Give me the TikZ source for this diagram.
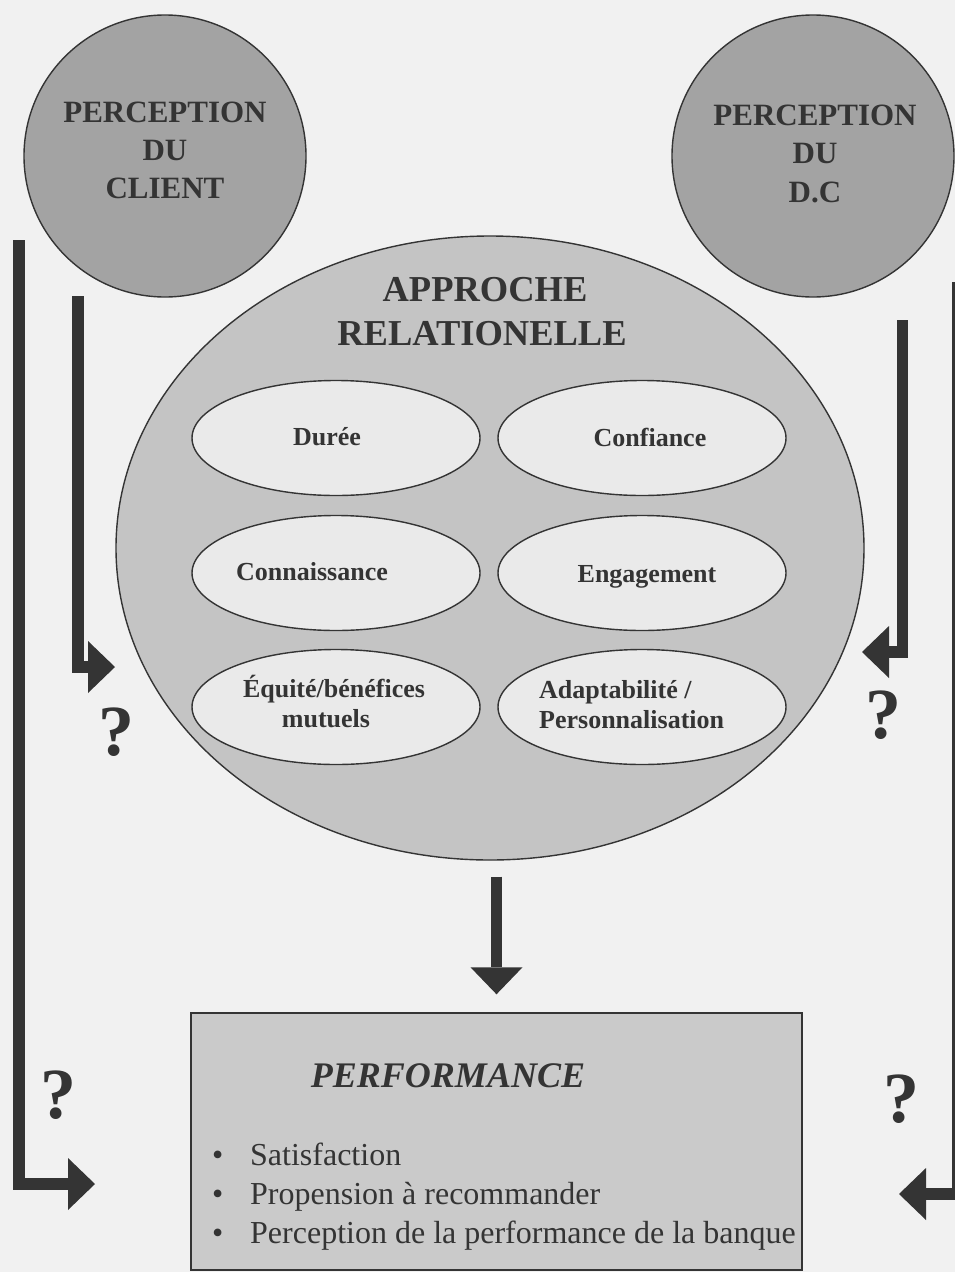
\documentclass[tikz,border=0pt]{standalone}
\usepackage{fontspec}
\setmainfont{Liberation Serif}
\usetikzlibrary{shapes.geometric,arrows.meta}
\definecolor{ink}{RGB}{52,52,52}
\definecolor{paper}{RGB}{241,241,241}
\definecolor{topfill}{RGB}{163,163,163}
\definecolor{bigfill}{RGB}{196,196,196}
\definecolor{ovalfill}{RGB}{234,234,234}
\definecolor{boxfill}{RGB}{202,202,202}
\newcommand\fsz[2]{\fontsize{#1}{#2}\selectfont}

\tikzset{
  outline/.style={draw=ink, line width=1.4pt},
  topcircle/.style={circle, outline, fill=topfill, minimum size=282pt, inner sep=0pt},
  bigoval/.style={ellipse, outline, fill=bigfill, minimum width=748pt, minimum height=624pt, inner sep=0pt},
  smalloval/.style={ellipse, outline, fill=ovalfill, minimum width=288pt, minimum height=115pt, inner sep=0pt},
  perfbox/.style={rectangle, outline, fill=boxfill, minimum width=611pt, minimum height=257pt, inner sep=0pt},
  bigarrow/.style={draw=ink, line width=11.5pt, line join=miter, line cap=butt,
    -{Triangle[length=27pt,width=52pt,line width=0pt]}},
  lbl/.style={inner sep=0pt, anchor=base, text=ink},
  lblw/.style={inner sep=0pt, anchor=base west, text=ink},
  circtext/.style={lbl, font=\fsz{31}{38}\bfseries},
  titletext/.style={lbl, font=\fsz{36.5}{45}\bfseries},
  ovaltext/.style={lbl, font=\fsz{26}{30}\bfseries},
  ovaltextw/.style={lblw, font=\fsz{26}{30}\bfseries},
  query/.style={lbl, font=\fsz{72}{80}\bfseries},
  itemtext/.style={lblw, font=\fsz{32}{38}},
}

\begin{document}
\begin{tikzpicture}[x=1pt,y=-1pt]
\useasboundingbox (0,0) rectangle (955,1272);
\fill[paper] (0,0) rectangle (955,1272);

% the two perception circles
\node[topcircle] (client) at (165,156) {};
\node[circtext] (client-l1) at (165,122) {PERCEPTION};
\node[circtext] (client-l2) at (165,160) {DU};
\node[circtext] (client-l3) at (165,198) {CLIENT};

\node[topcircle] (dc) at (813,156) {};
\node[circtext] (dc-l1) at (815,125) {PERCEPTION};
\node[circtext] (dc-l2) at (815,163) {DU};
\node[circtext] (dc-l3) at (815,202) {D.C};

% relational approach and its six dimensions
\node[bigoval] (approche) at (490,548) {};
\node[titletext] (approche-l1) at (485,301) {APPROCHE};
\node[titletext] (approche-l2) at (482,345) {RELATIONELLE};

\node[smalloval] (duree) at (336,438) {};
\node[smalloval] (confiance) at (642,438) {};
\node[smalloval] (connaissance) at (336,573) {};
\node[smalloval] (engagement) at (642,573) {};
\node[smalloval] (equite) at (336,707) {};
\node[smalloval] (adapt) at (642,707) {};

\node[ovaltext] at (327,445) {Durée};
\node[ovaltext] at (650,446) {Confiance};
\node[ovaltext] at (312,580) {Connaissance};
\node[ovaltext] at (647,582) {Engagement};
\node[ovaltext] at (334,697) {Équité/bénéfices};
\node[ovaltext] at (326,727) {mutuels};
\node[ovaltextw] at (539,698) {Adaptabilité /};
\node[ovaltextw] at (539,728) {Personnalisation};

% performance box
\node[perfbox] (perf) at (496.5,1141.5) {};
\node[lbl, font=\fsz{36}{40}\bfseries\itshape] (perf-title) at (448,1087) {PERFORMANCE};
\node[itemtext] at (212,1165) {\makebox[38pt][l]{•}Satisfaction};
\node[itemtext] at (212,1204) {\makebox[38pt][l]{•}Propension à recommander};
\node[itemtext] at (212,1243) {\makebox[38pt][l]{•}Perception de la performance de la banque};

% arrows
\coordinate (lo-start) at (19,240);
\coordinate (lo-end) at (95,1184);
\coordinate (li-start) at (78,296);
\coordinate (li-end) at (115,667);
\coordinate (ri-start) at (902.5,320);
\coordinate (ri-end) at (862,652);
\coordinate (ro-start) at (958,282);
\coordinate (ro-end) at (899,1194);

\draw[bigarrow] (lo-start) |- (lo-end);
\draw[bigarrow] (li-start) |- (li-end);
\draw[bigarrow] (ri-start) |- (ri-end);
\draw[bigarrow] (ro-start) |- (ro-end);
\draw[bigarrow, shorten <=16pt, shorten >=18pt] (approche.south -| perf.north) -- (perf.north);

% question marks
\node[query] (q1) at (116,755) {?};
\node[query] (q2) at (883,738) {?};
\node[query] (q3) at (58,1118) {?};
\node[query] (q4) at (901,1122) {?};
\end{tikzpicture}
\end{document}
